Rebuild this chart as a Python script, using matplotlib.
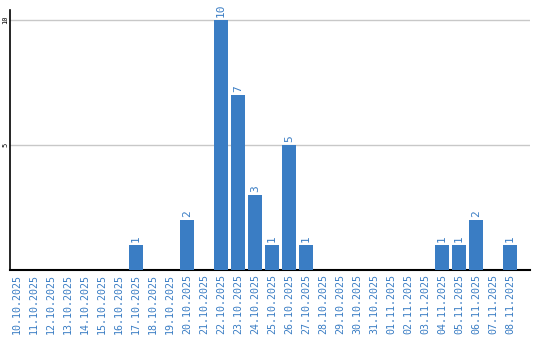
import matplotlib
matplotlib.use("Agg")
import matplotlib.pyplot as plt

dates = ["10.10.2025", "11.10.2025", "12.10.2025", "13.10.2025", "14.10.2025",
         "15.10.2025", "16.10.2025", "17.10.2025", "18.10.2025", "19.10.2025",
         "20.10.2025", "21.10.2025", "22.10.2025", "23.10.2025", "24.10.2025",
         "25.10.2025", "26.10.2025", "27.10.2025", "28.10.2025", "29.10.2025",
         "30.10.2025", "31.10.2025", "01.11.2025", "02.11.2025", "03.11.2025",
         "04.11.2025", "05.11.2025", "06.11.2025", "07.11.2025", "08.11.2025"]
counts = [0, 0, 0, 0, 0, 0, 0, 1, 0, 0,
          2, 0, 10, 7, 3, 1, 5, 1, 0, 0,
          0, 0, 0, 0, 0, 1, 1, 2, 0, 1]
yticks = [5, 10]

blue = "#3a7dc4"
mono = "DejaVu Sans Mono"

fig = plt.figure(figsize=(5.4, 3.4), dpi=100)
ax = fig.add_axes([10 / 540, 70 / 340, 520 / 540, 260 / 340])

x = list(range(len(dates)))
ax.bar(x, counts, width=0.82, color=blue, zorder=3)
for i, v in zip(x, counts):
    if v > 0:
        ax.text(i, v + 0.12, str(v), rotation=90, ha="center", va="bottom",
                color=blue, fontsize=8, family=mono)

ax.set_xlim(-0.41, 30.18)
ax.set_ylim(0, 10.4)
ax.set_yticks(yticks)
ax.set_yticklabels([str(t) for t in yticks], rotation=90, va="center",
                   fontsize=5, family=mono)
ax.yaxis.grid(True, color="#c8c8c8", linewidth=1, zorder=0)
ax.tick_params(axis="y", length=0, pad=1)
ax.set_xticks(x)
ax.set_xticklabels(dates, rotation=90, fontsize=7.2, family=mono, color=blue)
ax.tick_params(axis="x", length=0, pad=3)

for s in ["top", "right"]:
    ax.spines[s].set_visible(False)
ax.spines["left"].set_linewidth(1.2)
ax.spines["bottom"].set_linewidth(1.5)

fig.savefig("out.png", dpi=100)
